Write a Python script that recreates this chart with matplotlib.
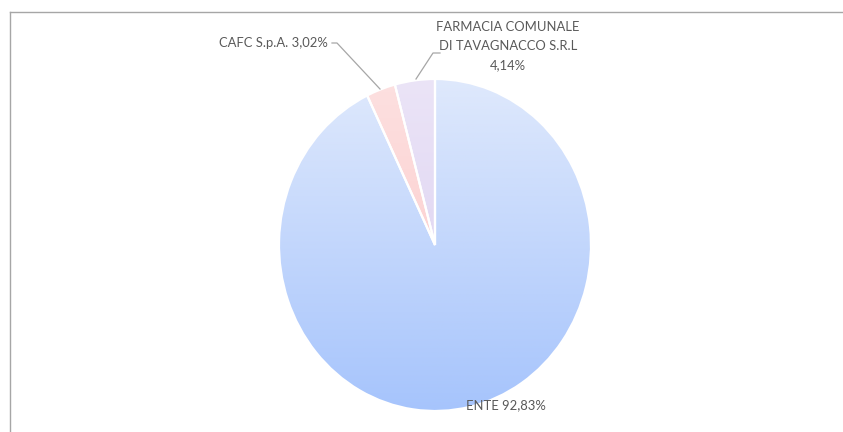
import numpy as np
import matplotlib
matplotlib.use("Agg")
import matplotlib.pyplot as plt
from matplotlib.colors import LinearSegmentedColormap
from matplotlib.lines import Line2D

labels = ["ENTE", "CAFC S.p.A.", "FARMACIA COMUNALE\nDI TAVAGNACCO S.R.L"]
values = [92.83, 3.02, 4.14]
pct_text = ["92,83%", "3,02%", "4,14%"]
colors = ["#c8dafc", "#fcd2d2", "#e4dcf4"]
grad_top = ["#dfe9fc", "#fde0e0", "#ebe4f7"]
grad_bot = ["#a6c4fc", "#fcc6c6", "#d9cdef"]

W, H = 843, 432
fig = plt.figure(figsize=(W / 100, H / 100), dpi=100)
plt.rcParams['font.family'] = ['Lato', 'DejaVu Sans']

# outer frame (top and left edges visible)
fx, fy = 9.5 / W, (432 - 11.5) / H
fig.add_artist(Line2D([fx, 1.0], [fy, fy], transform=fig.transFigure, color="#a6a6a6", lw=1.0))
fig.add_artist(Line2D([fx, fx], [0.0, fy], transform=fig.transFigure, color="#a6a6a6", lw=1.0))

ax = fig.add_axes([279 / W, (432 - 411) / H, 312 / W, 332 / H])
ax.set_xlim(-1, 1)
ax.set_ylim(-1, 1)
ax.set_aspect('auto')
ax.axis('off')

wedges, _ = ax.pie(values, startangle=90, counterclock=False, radius=1,
                   colors=colors, wedgeprops=dict(edgecolor="white", linewidth=1.6))
ax.set_xlim(-1, 1)
ax.set_ylim(-1, 1)

grad = np.linspace(0, 1, 256).reshape(-1, 1)
for w, ct, cb in zip(wedges, grad_top, grad_bot):
    cmap = LinearSegmentedColormap.from_list("g", [ct, cb])
    im = ax.imshow(grad, extent=[-1, 1, -1, 1], cmap=cmap, aspect='auto', origin='upper', zorder=0.5)
    im.set_clip_path(w)
    w.set_facecolor("none")
    w.set_zorder(1)

def px(x, y):
    # pixel coords (from top-left) to data coords
    dx = (x - 279) / 312 * 2 - 1
    dy = 1 - (y - 79) / 332 * 2
    return dx, dy

tc = "#595959"
fs = 9.4
ax.text(*px(506, 405), f"{labels[0]} {pct_text[0]}", ha='center', va='center', color=tc, fontsize=fs, clip_on=False)
ax.text(*px(328, 43), f"{labels[1]} {pct_text[1]}", ha='right', va='center', color=tc, fontsize=fs, clip_on=False)
ax.text(*px(508, 46), f"{labels[2]}\n{pct_text[2]}", ha='center', va='center', color=tc, fontsize=fs,
        linespacing=1.7, clip_on=False)

lc = "#a6a6a6"
xs, ys = zip(px(332, 43), px(337, 43), px(380, 89))
ax.plot(xs, ys, color=lc, lw=0.9, clip_on=False)
xs, ys = zip(px(440, 53), px(433, 53), px(416, 79))
ax.plot(xs, ys, color=lc, lw=0.9, clip_on=False)

fig.savefig("out.png", dpi=100)
